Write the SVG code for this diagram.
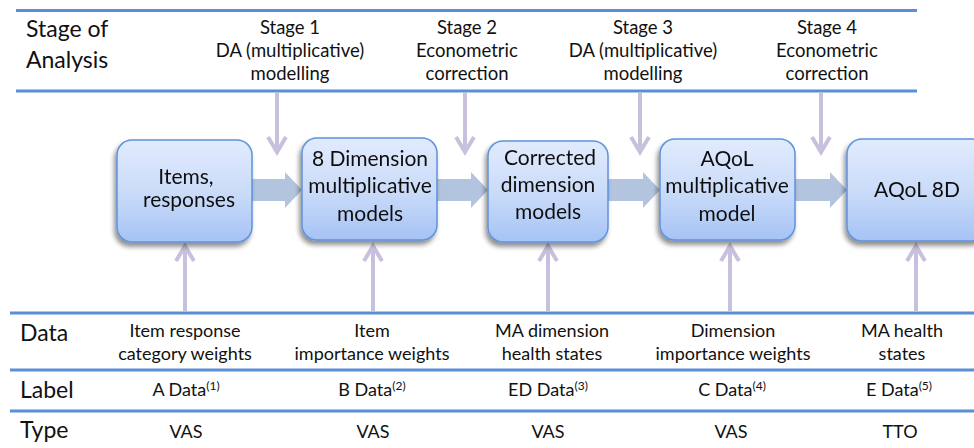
<svg xmlns="http://www.w3.org/2000/svg" width="974" height="448" viewBox="0 0 974 448">
<defs>
<linearGradient id="boxGrad" x1="0" y1="0" x2="0" y2="1">
<stop offset="0" stop-color="#e1ebfd"/>
<stop offset="0.5" stop-color="#cbdcf9"/>
<stop offset="1" stop-color="#a6c3f5"/>
</linearGradient>
<filter id="shadow" x="-20%" y="-20%" width="140%" height="150%">
<feGaussianBlur in="SourceAlpha" stdDeviation="2.5"/>
<feOffset dx="-2" dy="4" result="b"/>
<feComponentTransfer><feFuncA type="linear" slope="0.45"/></feComponentTransfer>
<feMerge><feMergeNode/><feMergeNode in="SourceGraphic"/></feMerge>
</filter>
</defs>
<style>
.rule{stroke:#5b8ed6;stroke-width:3;fill:none}
.box{fill:url(#boxGrad);stroke:#5f93dc;stroke-width:1.5}
.t{font-family:Lato,"Open Sans",sans-serif;fill:#111}
.hdr{font-size:23px}
.stg{font-size:18.5px;text-anchor:middle}
.bt{font-size:21px;text-anchor:middle}
.cell{font-size:18px;text-anchor:middle}
.sup{font-size:12px}
.thin{stroke:#c8c0dd;stroke-width:4;fill:none;stroke-linecap:butt}
.block{fill:#b3c4df}
</style>

<!-- table rules -->
<line class="rule" x1="16" y1="10.5" x2="917" y2="10.5"/>
<line class="rule" x1="16" y1="91" x2="917" y2="91"/>
<line class="rule" x1="10" y1="313" x2="974" y2="313"/>
<line class="rule" x1="10" y1="370" x2="974" y2="370"/>
<line class="rule" x1="10" y1="411" x2="974" y2="411"/>

<!-- header texts -->
<text class="t hdr" x="26" y="37">Stage of</text>
<text class="t hdr" x="26" y="68">Analysis</text>
<text class="t stg" x="290" y="34">Stage 1</text>
<text class="t stg" x="290" y="57">DA (multiplicative)</text>
<text class="t stg" x="290" y="80">modelling</text>
<text class="t stg" x="467" y="34">Stage 2</text>
<text class="t stg" x="467" y="57">Econometric</text>
<text class="t stg" x="467" y="80">correction</text>
<text class="t stg" x="643" y="34">Stage 3</text>
<text class="t stg" x="643" y="57">DA (multiplicative)</text>
<text class="t stg" x="643" y="80">modelling</text>
<text class="t stg" x="827" y="34">Stage 4</text>
<text class="t stg" x="827" y="57">Econometric</text>
<text class="t stg" x="827" y="80">correction</text>

<!-- connectors -->
<g id="connectors">
<polygon class="block" points="252,179 285,179 285,172 302,190 285,208 285,201 252,201"/>
<polygon class="block" points="437,179 471,179 471,172 488,190 471,208 471,201 437,201"/>
<polygon class="block" points="608,179 643,179 643,172 660,190 643,208 643,201 608,201"/>
<polygon class="block" points="795,179 830,179 830,172 847,190 830,208 830,201 795,201"/>
<!-- down arrows -->
<path class="thin" d="M277,93 V152 M268,137 L277,152 L286,137"/>
<path class="thin" d="M465,93 V152 M456,137 L465,152 L474,137"/>
<path class="thin" d="M640,93 V152 M631,137 L640,152 L649,137"/>
<path class="thin" d="M821,93 V152 M812,137 L821,152 L830,137"/>
<!-- up arrows -->
<path class="thin" d="M185,311 V246 M176,261 L185,246 L194,261"/>
<path class="thin" d="M373,311 V246 M364,261 L373,246 L382,261"/>
<path class="thin" d="M548,311 V246 M539,261 L548,246 L557,261"/>
<path class="thin" d="M730,311 V246 M721,261 L730,246 L739,261"/>
<path class="thin" d="M916,311 V246 M907,261 L916,246 L925,261"/>
</g>

<!-- nodes -->
<g id="n1" filter="url(#shadow)">
<rect class="box" x="117" y="140" width="135" height="102" rx="15"/>
<text class="t bt" x="186" y="184">Items,</text>
<text class="t bt" x="189" y="207">responses</text>
</g>
<g id="n2" filter="url(#shadow)">
<rect class="box" x="302" y="138" width="135" height="102" rx="15"/>
<text class="t bt" x="370" y="166">8 Dimension</text>
<text class="t bt" x="370" y="193">multiplicative</text>
<text class="t bt" x="370" y="221">models</text>
</g>
<g id="n3" filter="url(#shadow)">
<rect class="box" x="488" y="141" width="120" height="101" rx="15"/>
<text class="t bt" x="550" y="165">Corrected</text>
<text class="t bt" x="548" y="192">dimension</text>
<text class="t bt" x="548" y="219">models</text>
</g>
<g id="n4" filter="url(#shadow)">
<rect class="box" x="660" y="139" width="135" height="101" rx="15"/>
<text class="t bt" x="727" y="166">AQoL</text>
<text class="t bt" x="727" y="193">multiplicative</text>
<text class="t bt" x="727" y="221">model</text>
</g>
<g id="n5" filter="url(#shadow)">
<rect class="box" x="847" y="139" width="140" height="102" rx="15"/>
<text class="t bt" x="917" y="197">AQoL 8D</text>
</g>

<!-- bottom rows -->
<text class="t hdr" x="20" y="341">Data</text>
<text class="t hdr" x="20" y="398">Label</text>
<text class="t hdr" x="20" y="438">Type</text>

<text class="t cell" x="185" y="337">Item response</text>
<text class="t cell" x="185" y="360">category weights</text>
<text class="t cell" x="372" y="337">Item</text>
<text class="t cell" x="372" y="360">importance weights</text>
<text class="t cell" x="552" y="337">MA dimension</text>
<text class="t cell" x="552" y="360">health states</text>
<text class="t cell" x="733" y="337">Dimension</text>
<text class="t cell" x="733" y="360">importance weights</text>
<text class="t cell" x="902" y="337">MA health</text>
<text class="t cell" x="902" y="360">states</text>

<text class="t cell" x="186" y="396">A Data<tspan class="sup" dy="-6">(1)</tspan></text>
<text class="t cell" x="372" y="396">B Data<tspan class="sup" dy="-6">(2)</tspan></text>
<text class="t cell" x="548" y="396">ED Data<tspan class="sup" dy="-6">(3)</tspan></text>
<text class="t cell" x="732" y="396">C Data<tspan class="sup" dy="-6">(4)</tspan></text>
<text class="t cell" x="899" y="396">E Data<tspan class="sup" dy="-6">(5)</tspan></text>

<text class="t cell" x="186" y="438">VAS</text>
<text class="t cell" x="373" y="438">VAS</text>
<text class="t cell" x="548" y="438">VAS</text>
<text class="t cell" x="731" y="438">VAS</text>
<text class="t cell" x="900" y="438">TTO</text>
</svg>
